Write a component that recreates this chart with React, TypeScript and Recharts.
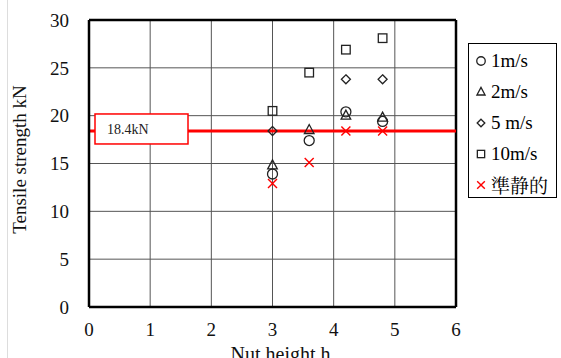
import {
  CartesianGrid,
  ReferenceLine,
  Scatter,
  ScatterChart,
  XAxis,
  YAxis,
} from "recharts";

const nutHeights = [3, 3.6, 4.2, 4.8];
const speed1 = [13.9, 17.4, 20.4, 19.4];
const speed2 = [14.8, 18.5, 20.0, 19.8];
const speed5 = [18.4, null, 23.8, 23.8];
const speed10 = [20.5, 24.5, 26.9, 28.1];
const quasiStatic = [12.9, 15.1, 18.4, 18.4];
const seriesNames = ["1m/s", "2m/s", "5 m/s", "10m/s", "準静的"];
const xTicks = [0, 1, 2, 3, 4, 5, 6];
const yTicks = [0, 5, 10, 15, 20, 25, 30];
const staticLevel = 18.4;

const FONT = "'Liberation Serif', 'Noto Serif CJK JP', serif";

type Kind = "circle" | "triangle" | "diamond" | "square" | "cross";
const kinds: Kind[] = ["circle", "triangle", "diamond", "square", "cross"];

function toPoints(values: (number | null)[]) {
  return nutHeights
    .map((h, i) => ({ h, v: values[i] }))
    .filter((p) => p.v !== null);
}

function Marker({ kind, cx, cy, s = 1 }: { kind: Kind; cx: number; cy: number; s?: number }) {
  const stroke = "#222";
  switch (kind) {
    case "circle":
      return <circle cx={cx} cy={cy} r={5 * s} fill="none" stroke={stroke} strokeWidth={1.3} />;
    case "triangle":
      return (
        <polygon
          points={`${cx},${cy - 5.5 * s} ${cx - 4.8 * s},${cy + 3.5 * s} ${cx + 4.8 * s},${cy + 3.5 * s}`}
          fill="none"
          stroke={stroke}
          strokeWidth={1.3}
        />
      );
    case "diamond":
      return (
        <polygon
          points={`${cx},${cy - 4.5 * s} ${cx + 4.5 * s},${cy} ${cx},${cy + 4.5 * s} ${cx - 4.5 * s},${cy}`}
          fill="none"
          stroke={stroke}
          strokeWidth={1.3}
        />
      );
    case "square":
      return (
        <rect x={cx - 4.3 * s} y={cy - 4.3 * s} width={8.6 * s} height={8.6 * s} fill="none" stroke={stroke} strokeWidth={1.3} />
      );
    default:
      return (
        <g stroke="#ff0000" strokeWidth={1.4}>
          <line x1={cx - 4.5 * s} y1={cy - 4.5 * s} x2={cx + 4.5 * s} y2={cy + 4.5 * s} />
          <line x1={cx - 4.5 * s} y1={cy + 4.5 * s} x2={cx + 4.5 * s} y2={cy - 4.5 * s} />
        </g>
      );
  }
}

function makeShape(kind: Kind) {
  return (props: any) => <Marker kind={kind} cx={props.cx} cy={props.cy} />;
}

function LegendBox() {
  return (
    <div
      style={{
        position: "absolute",
        left: 468,
        top: 43,
        width: 89,
        height: 155,
        border: "1px solid #000",
        background: "#fff",
        fontFamily: FONT,
        fontSize: 19,
        paddingTop: 1,
        boxSizing: "border-box",
      }}
    >
      {seriesNames.map((name, i) => (
        <div key={name} style={{ display: "flex", alignItems: "center", height: 31, color: "#000" }}>
          <svg width={16} height={14} style={{ marginLeft: 4 }}>
            <Marker kind={kinds[i]} cx={8} cy={7} s={0.85} />
          </svg>
          <span style={{ marginLeft: 2 }}>{name}</span>
        </div>
      ))}
    </div>
  );
}

function StaticLabel(props: any) {
  const { viewBox } = props;
  const x = viewBox.x + 6;
  const y = viewBox.y - 17;
  return (
    <g>
      <rect x={x} y={y} width={93} height={30} fill="#fff" stroke="#ff0000" strokeWidth={1.5} />
      <text x={x + 12} y={y + 20} style={{ fontFamily: FONT, fontSize: 14 }} fill="#222">
        {staticLevel}kN
      </text>
    </g>
  );
}

const tickStyle = { fontFamily: FONT, fontSize: 19, fill: "#111" };

export default function App() {
  const series = [speed1, speed2, speed5, speed10, quasiStatic];
  return (
    <div style={{ position: "absolute", left: 0, top: 0, width: 561, height: 358, background: "#fff", fontFamily: FONT }}>
      <div style={{ position: "absolute", left: 7, top: 0, width: 1, height: 358, background: "#ddd" }} />
      <ScatterChart width={561} height={358} margin={{ top: 20, right: 105, bottom: 0, left: 30 }} style={{ fontFamily: FONT }}>
        <CartesianGrid stroke="#555" strokeWidth={1} />
        <XAxis
          type="number"
          dataKey="h"
          domain={[0, 6]}
          ticks={xTicks}
          tickLine={false}
          axisLine={{ stroke: "#000", strokeWidth: 2.5 }}
          tick={tickStyle}
          tickMargin={10}
          height={51}
          label={{ value: "Nut height h", position: "insideBottom", dx: 8, offset: -3, style: { ...tickStyle, fontSize: 20 } }}
        />
        <YAxis
          type="number"
          dataKey="v"
          domain={[0, 30]}
          ticks={yTicks}
          tickLine={false}
          axisLine={{ stroke: "#000", strokeWidth: 2.5 }}
          tick={tickStyle}
          tickMargin={14}
          width={59}
          label={{ value: "Tensile strength kN", angle: -90, position: "insideLeft", dx: -16, dy: -4, style: { ...tickStyle, fontSize: 19, textAnchor: "middle" } }}
        />
        <ReferenceLine y={30} stroke="#000" strokeWidth={2.5} />
        <ReferenceLine x={6} stroke="#000" strokeWidth={2.5} />
        <ReferenceLine y={staticLevel} stroke="#ff0000" strokeWidth={3} label={<StaticLabel />} />
        {series.map((vals, i) => (
          <Scatter
            key={seriesNames[i]}
            name={seriesNames[i]}
            data={toPoints(vals)}
            shape={makeShape(kinds[i])}
            isAnimationActive={false}
          />
        ))}
      </ScatterChart>
      <LegendBox />
    </div>
  );
}
